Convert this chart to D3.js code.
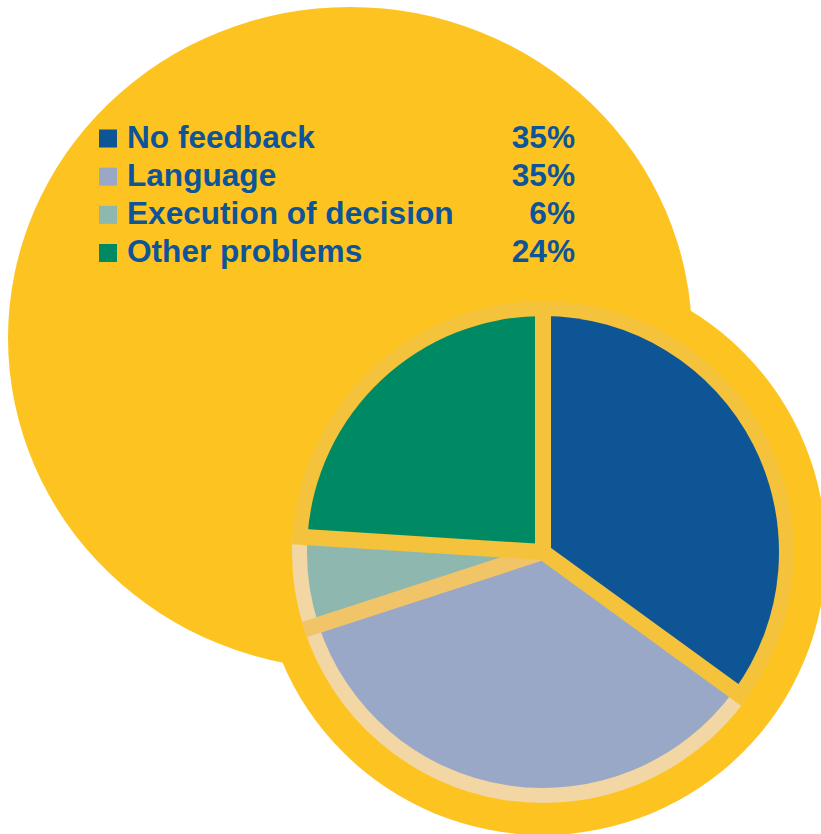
<!DOCTYPE html>
<html>
<head>
<meta charset="utf-8">
<script src="https://cdn.jsdelivr.net/npm/d3@7/dist/d3.min.js"></script>
<style>
  html, body { margin: 0; padding: 0; background: #fff; }
  svg { display: block; }
  .legendText { font-family: "Liberation Sans", Arial, Helvetica, sans-serif; font-weight: bold; font-size: 31.6px; fill: #0d5499; }
</style>
</head>
<body>
<div id="chart"></div>
<script>
// Problems pie

//data
var categories = ["No feedback", "Language", "Execution of decision", "Other problems"];
var values = [35, 35, 6, 24];
var pctLabels = ["35%", "35%", "6%", "24%"];

var W = 821, H = 834;

//colours
var sliceColor = d3.scaleOrdinal()
		.domain(categories)
		.range(["#0e5595", "#98a8c6", "#8eb8af", "#008a63"]);
var bandColor = d3.scaleOrdinal()
		.domain(categories)
		.range(["#f4c33b", "#f2d6a3", "#f2d6a3", "#f4c33b"]);
var sepColor = d3.scaleOrdinal()
		.domain(categories)
		.range(["#f4c33b", "#f4c33b", "#f2c468", "#f4c33b"]);

var yellow = "#fdc421";

var svg = d3.select("#chart")
			.append("svg")
			.attr("width", W)
			.attr("height", H);

// big background disc
svg.append("ellipse")
	.attr("cx", 350)
	.attr("cy", 338)
	.attr("rx", 342)
	.attr("ry", 331)
	.attr("fill", yellow);

var cx = 543, cy = 552;
var rOuter = 283, rBand = 251, rPie = 236;

var g = svg.append("g")
		.attr("transform", "translate(" + cx + "," + cy + ")");

g.append("circle")
	.attr("r", rOuter)
	.attr("fill", yellow);

var pie = d3.pie().sort(null).value(function(d) {return d.value;});
var arcs = pie(categories.map(function(c, i) {return {name: c, value: values[i]};}));

var bandArc = d3.arc().innerRadius(0).outerRadius(rBand);
var pieArc = d3.arc().innerRadius(0).outerRadius(rPie);

// outer tinted band, per slice
g.append("g").selectAll("path")
	.data(arcs)
	.enter().append("path")
	.attr("d", bandArc)
	.attr("fill", function(d) {return bandColor(d.data.name);});

// slices
g.append("g").selectAll("path")
	.data(arcs)
	.enter().append("path")
	.attr("d", pieArc)
	.attr("fill", function(d) {return sliceColor(d.data.name);});

// separators (at the start angle of each slice), lighter one drawn first
var sepOrder = arcs.slice().sort(function(a, b) {
	return (sepColor(a.data.name) === "#f2c468" ? 0 : 1) - (sepColor(b.data.name) === "#f2c468" ? 0 : 1);
});
g.append("g").selectAll("line")
	.data(sepOrder)
	.enter().append("line")
	.attr("x1", 0)
	.attr("y1", 0)
	.attr("x2", function(d) {return Math.sin(d.startAngle) * rBand;})
	.attr("y2", function(d) {return -Math.cos(d.startAngle) * rBand;})
	.attr("stroke", function(d) {return sepColor(d.data.name);})
	.attr("stroke-width", 16);

// legend
var legendY = d3.scaleLinear()
		.domain([0, categories.length - 1])
		.range([147.5, 262]);

var legend = svg.append("g");

legend.selectAll("rect")
	.data(categories)
	.enter().append("rect")
	.attr("x", 99)
	.attr("y", function(d, i) {return legendY(i) - 18;})
	.attr("width", 18)
	.attr("height", 18)
	.attr("fill", function(d) {return sliceColor(d);});

legend.selectAll(".legendText.name")
	.data(categories)
	.enter().append("text")
	.attr("class", "legendText name")
	.attr("x", 127)
	.attr("y", function(d, i) {return legendY(i);})
	.text(function(d) {return d;});

legend.selectAll(".legendText.pct")
	.data(pctLabels)
	.enter().append("text")
	.attr("class", "legendText pct")
	.attr("x", 575)
	.attr("y", function(d, i) {return legendY(i);})
	.attr("text-anchor", "end")
	.text(function(d) {return d;});
</script>
</body>
</html>
